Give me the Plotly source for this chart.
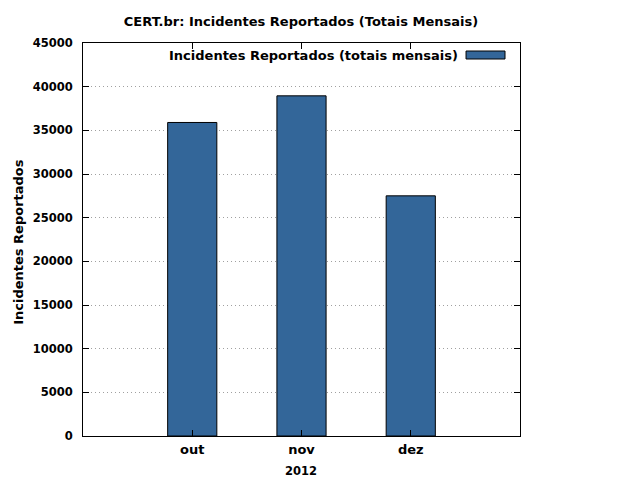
import plotly.graph_objects as go

categories = ["out", "nov", "dez"]
values = [35900, 38950, 27500]
y_ticks = list(range(0, 45001, 5000))
title_text = "CERT.br: Incidentes Reportados (Totais Mensais)"
legend_text = "Incidentes Reportados (totais mensais)"
x_title = "2012"
y_title = "Incidentes Reportados"

bar_color = "#336699"
font_family = "DejaVu Sans"

# page offset of the figure (browser body margin)
OX, OY = 8, 7
W, H = 632, 472
PL, PT, PR, PB = 82.7, 42, 520, 435  # target plot box in window pixels
PW, PH = PR - PL, PB - PT


def px(x):
    return (x - PL) / PW


def py(y):
    return (PB - y) / PH


fig = go.Figure()
fig.add_trace(go.Bar(
    x=list(range(len(categories))), y=values,
    width=0.45,
    marker=dict(color=bar_color, line=dict(color="black", width=1)),
    showlegend=False,
))

fig.update_layout(
    width=W, height=H,
    margin=dict(l=PL - OX, r=W + OX - PR, t=PT - OY, b=H + OY - PB, pad=0, autoexpand=False),
    plot_bgcolor="white", paper_bgcolor="white",
    font=dict(family=font_family, size=11, color="black", weight="bold"),
    title=dict(text=title_text, x=(301 - OX) / W, xanchor="center",
               y=1 - (20 - OY) / H, yanchor="middle", yref="container",
               font=dict(size=13, weight="bold")),
    showlegend=False,
)

fig.update_xaxes(
    range=[-1, 3], automargin=False,
    tickmode="array", tickvals=list(range(len(categories))), ticktext=categories,
    showline=True, linecolor="black", linewidth=1, mirror="ticks",
    ticks="inside", ticklen=6, tickcolor="black",
    showgrid=False, zeroline=False,
    tickfont=dict(size=13, weight="bold"),
    ticklabelstandoff=1,
)
fig.update_yaxes(
    range=[0, 45000], automargin=False,
    tickmode="array", tickvals=y_ticks, ticktext=[str(v) for v in y_ticks],
    showline=True, linecolor="black", linewidth=1, mirror="ticks",
    ticks="inside", ticklen=6, tickcolor="black",
    showgrid=True, gridcolor="#a0a0a0", griddash="1px,3px", gridwidth=1,
    zeroline=False,
    tickfont=dict(size=11.5, weight="bold"),
    ticklabelstandoff=7,
)

# axis titles
fig.add_annotation(
    xref="paper", yref="paper", x=px(9), y=py(241),
    xanchor="left", yanchor="middle", textangle=-90,
    text=y_title, showarrow=False, font=dict(size=13, weight="bold"),
)
fig.add_annotation(
    xref="paper", yref="paper", x=px(301), y=py(470),
    xanchor="center", yanchor="middle",
    text=x_title, showarrow=False, font=dict(size=11.5, weight="bold"),
)

# gnuplot-style key: text then sample box (top right inside plot)
fig.add_annotation(
    xref="paper", yref="paper", x=px(460), y=py(54),
    xanchor="right", yanchor="middle",
    text=legend_text, showarrow=False, font=dict(size=13, weight="bold"),
)
fig.add_shape(
    type="rect", xref="paper", yref="paper",
    x0=px(466), x1=px(505), y0=py(58), y1=py(50),
    fillcolor=bar_color, line=dict(color="black", width=1),
)

fig.write_html("out.html")
